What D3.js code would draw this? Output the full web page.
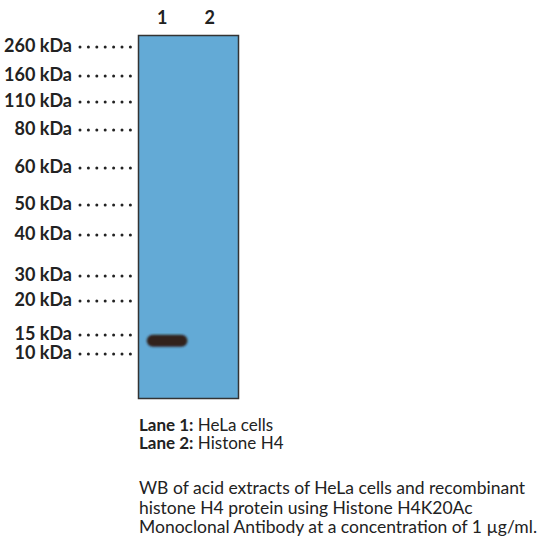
<!DOCTYPE html><html><head><meta charset="utf-8"><script src="https://cdn.jsdelivr.net/npm/d3@7"></script>
<style>body{margin:0;background:#fff}text{font-family:Lato,"Open Sans",sans-serif}</style></head><body>
<svg id="c" width="543" height="540"></svg>
<script>
const markers = [260,160,110,80,60,50,40,30,20,15,10];
const markerLabels = ["260 kDa","160 kDa","110 kDa","80 kDa","60 kDa","50 kDa","40 kDa","30 kDa","20 kDa","15 kDa","10 kDa"];
const markerPix = [46,75,101,129,167,204,234,275,300,334,353];
const lanes = ["1","2"];
const bands = [{lane:"1", kDa:13.2}];
const legendLines = [["Lane 1:"," HeLa cells"],["Lane 2:"," Histone H4"]];
const caption = ["WB of acid extracts of HeLa cells and recombinant","histone H4 protein using Histone H4K20Ac","Monoclonal Antibody at a concentration of 1 µg/ml."];

const svg = d3.select("#c");
const y = d3.scaleLinear().domain(markers).range(markerPix);
const x = d3.scaleBand().domain(lanes).range([138,238]).paddingInner(0.1).paddingOuter(0.1);

svg.append("rect").attr("x",138.5).attr("y",35.5).attr("width",100).attr("height",363)
  .attr("fill","#63aad6").attr("stroke","#333").attr("stroke-width",1.5);

const defs = svg.append("defs");
defs.append("filter").attr("id","blur").append("feGaussianBlur").attr("stdDeviation",1);

svg.selectAll(".band").data(bands).join("rect")
  .attr("x",d=>x(d.lane)+4).attr("y",d=>y(d.kDa)-6)
  .attr("width",x.bandwidth()*0.95).attr("height",12).attr("rx",6)
  .attr("fill","#33231f").attr("filter","url(#blur)");

svg.selectAll(".lane").data(lanes).join("text")
  .attr("x",d=>x(d)+x.bandwidth()/2-2).attr("y",24).attr("text-anchor","middle")
  .attr("font-size",18).attr("font-weight","bold").attr("fill","#222").text(d=>d);

const g = svg.selectAll(".mk").data(markers).join("g");
g.append("text").attr("x",72).attr("y",d=>y(d)+6).attr("text-anchor","end")
  .attr("font-size",18).attr("font-weight","bold").attr("fill","#222").text((d,i)=>markerLabels[i]);
g.each(function(d){
  d3.select(this).selectAll("circle").data(d3.range(7)).join("circle")
    .attr("cx",k=>80+k*8.4).attr("cy",y(d)+1).attr("r",1.5).attr("fill","#222");
});

const lg = svg.selectAll(".lg").data(legendLines).join("text")
  .attr("x",139).attr("y",(d,i)=>431+i*18).attr("font-size",17).attr("fill","#222");
lg.append("tspan").attr("font-weight","bold").text(d=>d[0]);
lg.append("tspan").text(d=>d[1]);

svg.selectAll(".cap").data(caption).join("text")
  .attr("x",139).attr("y",(d,i)=>494+i*19.5).attr("font-size",17.5).attr("fill","#222").text(d=>d);
</script></body></html>
